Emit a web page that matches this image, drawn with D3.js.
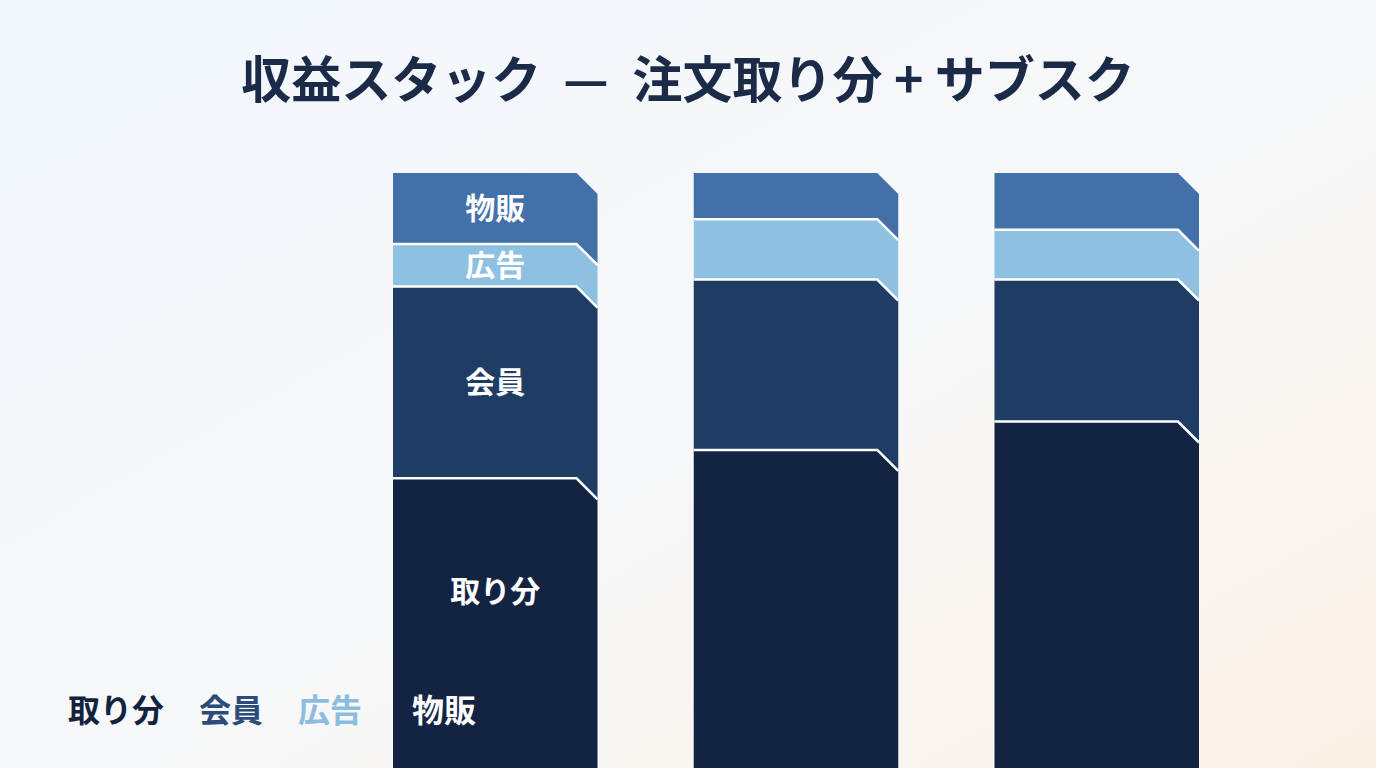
<!DOCTYPE html>
<html>
<head>
<meta charset="utf-8">
<script src="https://cdn.jsdelivr.net/npm/d3@7"></script>
<style>
  html, body { margin: 0; padding: 0; }
  body { width: 1376px; height: 768px; overflow: hidden; font-family: "Noto Sans CJK JP", "Noto Sans", sans-serif; }
</style>
</head>
<body>
<div id="chart"></div>
<script>
'use strict';

// Data
const periods = ['P1', 'P2', 'P3'];
const seriesKeys = ['取り分', '会員', '広告', '物販'];
const cut = [57, 61, 65];      // 取り分 (%)
const members = [27, 24, 20];  // 会員 (%)
const ads = [6, 8.5, 7];       // 広告 (%)
const goods = [10, 6.5, 8];    // 物販 (%)
const titleParts = ['収益スタック', '—', '注文取り分 + サブスク'];

const width = 1376, height = 768;
const fillColors = ['#132443', '#1f3c65', '#8ec0e2', '#4470a9'];
const legendColors = ['#12223f', '#2b4b7a', '#8cbde0', '#ffffff'];
const legendGaps = [35, 35, 50];
const chamfer = 21;
const labelFloor = 705; // labels are centred on the visible part of a segment

const rows = periods.map((p, i) => ({
    period: p,
    '取り分': cut[i], '会員': members[i], '広告': ads[i], '物販': goods[i]
}));

const svg = d3.select('#chart').append('svg')
    .attr('width', width)
    .attr('height', height);

// Soft background
const grad = svg.append('defs').append('linearGradient')
    .attr('id', 'bg').attr('x1', 0).attr('y1', 0).attr('x2', 1).attr('y2', 1);
grad.append('stop').attr('offset', '0%').attr('stop-color', '#f2f7fc');
grad.append('stop').attr('offset', '55%').attr('stop-color', '#f7f8f9');
grad.append('stop').attr('offset', '100%').attr('stop-color', '#fcf1e7');
svg.append('rect').attr('width', width).attr('height', height).attr('fill', 'url(#bg)');

// Title
const title = svg.append('text')
    .attr('x', width / 2)
    .attr('y', 98)
    .attr('text-anchor', 'middle')
    .attr('font-size', 50)
    .attr('font-weight', 700)
    .attr('fill', '#1a2a47');
title.append('tspan').text(titleParts[0]);
title.append('tspan').attr('dx', 22).text(titleParts[1]);
title.append('tspan').attr('dx', 24).text(titleParts[2]);

// Scales
const x = d3.scaleBand()
    .domain(periods)
    .range([393, 1199])
    .paddingInner(0.32)
    .paddingOuter(0);

const y = d3.scaleLinear()
    .domain([0, 100])
    .range([883, 173]);

const color = d3.scaleOrdinal().domain(seriesKeys).range(fillColors);

const stacked = d3.stack().keys(seriesKeys)(rows);

// Segment shape: top-right corner cut, right edge shifted down by the chamfer
function segmentPath(d, x0, x1) {
    const yt = y(d[1]);
    const yb = y(d[0]);
    const p = d3.path();
    p.moveTo(x0, yt);
    p.lineTo(x1 - chamfer, yt);
    p.lineTo(x1, yt + chamfer);
    p.lineTo(x1, yb + chamfer);
    p.lineTo(x1 - chamfer, yb);
    p.lineTo(x0, yb);
    p.closePath();
    return p.toString();
}

const bars = svg.append('g');

stacked.forEach(layer => {
    bars.append('g')
        .selectAll('path')
        .data(layer)
        .join('path')
        .attr('fill', color(layer.key))
        .attr('d', d => {
            const x0 = x(d.data.period);
            return segmentPath(d, x0, x0 + x.bandwidth());
        });
});

// White separators between segments
stacked.slice(0, -1).forEach(layer => {
    bars.append('g')
        .selectAll('path')
        .data(layer)
        .join('path')
        .attr('fill', 'none')
        .attr('stroke', '#ffffff')
        .attr('stroke-width', 2.5)
        .attr('d', d => {
            const x0 = x(d.data.period);
            const x1 = x0 + x.bandwidth();
            const yy = y(d[1]);
            return `M${x0},${yy}L${x1 - chamfer},${yy}L${x1},${yy + chamfer}`;
        });
});

// Labels on the first bar
const labelG = svg.append('g');
stacked.forEach(layer => {
    const d = layer[0];
    const yb = Math.min(y(d[0]), labelFloor);
    const yt = y(d[1]);
    labelG.append('text')
        .attr('x', x(d.data.period) + x.bandwidth() / 2)
        .attr('y', (yt + yb) / 2)
        .attr('dy', '0.36em')
        .attr('text-anchor', 'middle')
        .attr('font-size', 30)
        .attr('font-weight', 700)
        .attr('fill', '#ffffff')
        .text(layer.key);
});

// Legend
const legend = svg.append('g').attr('transform', 'translate(68,722)');
let lx = 0;
seriesKeys.forEach((k, i) => {
    const t = legend.append('text')
        .attr('x', lx)
        .attr('y', 0)
        .attr('font-size', 32)
        .attr('font-weight', 700)
        .attr('fill', legendColors[i])
        .text(k);
    lx += t.node().getComputedTextLength() + (legendGaps[i] || 0);
});
</script>
</body>
</html>
